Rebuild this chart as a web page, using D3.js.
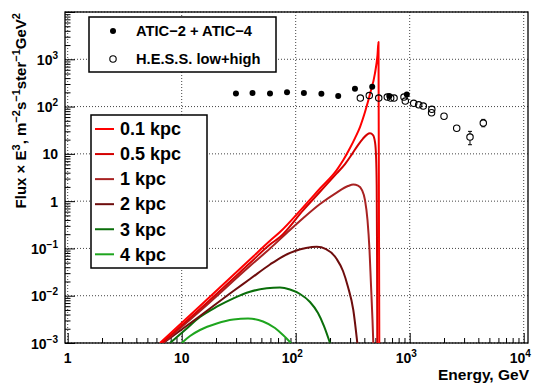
<!DOCTYPE html>
<html><head><meta charset="utf-8">
<script src="https://cdn.jsdelivr.net/npm/d3@7"></script>
<style>
html,body{margin:0;padding:0;background:#fff;}
svg{display:block;font-family:"Liberation Sans",Arial,Helvetica,sans-serif;font-weight:bold;}
</style></head>
<body>
<svg id="c" width="533" height="383"></svg>
<script>
// ---------- data ----------
const aticEnergy = [29.9, 41.8, 59.5, 83.9, 118, 168, 236, 331, 469, 662, 943];
const aticFlux   = [190, 193, 190, 200, 193, 187, 167, 238, 262, 167, 181];

const hessEnergy = [369, 442, 535, 636, 681, 729, 891, 915, 1084, 1199, 1316, 1563, 1555, 2000, 2584, 3380, 4421];
const hessFlux   = [151, 171, 151, 159, 151, 151, 159, 131, 117, 109, 102.5, 87.3, 74, 62.4, 34.8, 22.6, 44.8];
const hessErrUp  = [0, 0, 0, 0, 0, 0, 0, 0, 0, 0, 0, 0, 0, 0, 0, 7.3, 8.8];
const hessErrDn  = [0, 0, 0, 0, 0, 0, 0, 0, 0, 0, 0, 0, 0, 0, 0, 7.0, 7.4];

const curveLabels = ["0.1 kpc", "0.5 kpc", "1 kpc", "2 kpc", "3 kpc", "4 kpc"];
const curveColors = ["#ff0000", "#d40000", "#a82222", "#6e0d0d", "#0a6e0a", "#1ea51e"];

const energy01 = [6.45, 14.47, 39.7, 59.5, 72.8, 116.6, 163.4, 228.9, 261.6, 299.5, 331.3, 366.4, 405.4, 448.5, 496.1, 521.8, 532.5, 541.2];
const flux01   = [0.001, 0.00606, 0.0583, 0.1455, 0.222, 0.750, 1.85, 4.545, 7.39, 13.26, 21.58, 36.87, 76.5, 183.8, 510.9, 1227, 2310, 0.001];

const energy05 = [6.72, 14.47, 39.7, 59.5, 72.8, 116.6, 163.4, 228.9, 270.7, 311.9, 352, 389.4, 422.1, 448.5, 476.5, 496.1, 506.3, 513.4, 516.6, 519.7];
const flux05   = [0.001, 0.00524, 0.0491, 0.121, 0.174, 0.648, 1.58, 3.87, 6.087, 9.90, 15.35, 21.06, 25.59, 27.13, 24.98, 17.76, 9.43, 2.19, 0.1505, 0.001];

const energy1  = [6.85, 14.47, 39.7, 59.5, 83.4, 116.6, 163.4, 228.9, 287.6, 320.1, 352, 381.5, 405.4, 426.4, 444, 457.6, 471.7, 479.4];
const flux1    = [0.001, 0.00475, 0.0425, 0.0995, 0.2116, 0.439, 0.868, 1.52, 2.085, 2.244, 2.137, 1.717, 1.055, 0.399, 0.0925, 0.0168, 0.00306, 0.001];

const energy2  = [6.90, 14.47, 28.4, 39.7, 59.5, 72.8, 98.6, 123.1, 152.9, 184.4, 228.9, 260, 287.6, 320.1, 347.1];
const flux2    = [0.001, 0.00372, 0.01257, 0.0225, 0.0457, 0.0627, 0.0881, 0.102, 0.1086, 0.0971, 0.0597, 0.0333, 0.01527, 0.00499, 0.001];

const energy3  = [7.90, 10.7, 14.47, 20.3, 28.4, 39.7, 55.7, 72.8, 89.1, 109.1, 133.5, 156.9, 177.1, 200];
const flux3    = [0.001, 0.001883, 0.003546, 0.00585, 0.00881, 0.01215, 0.01434, 0.0149, 0.01352, 0.01086, 0.00736, 0.00431, 0.002287, 0.001];

const energy4  = [10.0, 11.83, 14.47, 20.3, 28.4, 38.2, 51.7, 65.8, 77.4, 90.9];
const flux4    = [0.001, 0.001406, 0.001883, 0.002585, 0.00314, 0.003296, 0.002849, 0.002076, 0.001476, 0.001];

const xMajor = [1, 10, 100, 1000, 10000];
const xMajorExp = [0, 1, 2, 3, 4];
const yMajor = [1e-3, 1e-2, 1e-1, 1, 10, 100, 1000];
const yMajorExp = [-3, -2, -1, 0, 1, 2, 3];

// ---------- layout ----------
const svg = d3.select("#c");
const L = 65, R = 528, T = 12, B = 343;
const x = d3.scaleLog().domain([1, 1e4]).range([67.7, 523.7]);
const y = d3.scaleLog().domain([1e-3, 1e4]).range([B, T]);

svg.append("defs").append("clipPath").attr("id", "clip")
  .append("rect").attr("x", L).attr("y", T).attr("width", R - L).attr("height", B - T);

// grid
const grid = svg.append("g").attr("stroke", "#444").attr("stroke-width", 1).attr("stroke-dasharray", "1,2");
xMajor.forEach(v => grid.append("line").attr("x1", x(v)).attr("x2", x(v)).attr("y1", T).attr("y2", B));
yMajor.concat([1e4]).forEach(v => grid.append("line").attr("x1", L).attr("x2", R).attr("y1", y(v)).attr("y2", y(v)));

// minor tick values
const xMinor = [];
for (let d = 1; d < 1e4; d *= 10) for (let k = 2; k <= 9; k++) xMinor.push(d * k);
const yMinor = [];
for (let d = 1e-3; d < 1e4 * 0.99; d *= 10) for (let k = 2; k <= 9; k++) yMinor.push(d * k);

// axes (ticks inward)
const gx1 = svg.append("g").attr("transform", `translate(0,${B})`)
  .call(d3.axisBottom(x).tickValues(xMinor).tickSize(-5).tickFormat(""));
const gx2 = svg.append("g").attr("transform", `translate(0,${B})`)
  .call(d3.axisBottom(x).tickValues(xMajor).tickSize(-10).tickFormat(""));
const gy1 = svg.append("g").attr("transform", `translate(${L},0)`)
  .call(d3.axisLeft(y).tickValues(yMinor).tickSize(-5.5).tickFormat(""));
const gy2 = svg.append("g").attr("transform", `translate(${L},0)`)
  .call(d3.axisLeft(y).tickValues(yMajor.concat([1e4])).tickSize(-10).tickFormat(""));
[gx1, gx2, gy1, gy2].forEach(g => { g.select(".domain").remove(); g.selectAll("line").attr("stroke", "#000").attr("stroke-width", 1); });

// frame
svg.append("rect").attr("x", L).attr("y", T).attr("width", R - L).attr("height", B - T)
  .attr("fill", "none").attr("stroke", "#000").attr("stroke-width", 1.3);

// tick labels
function powLabel(g, exp, xPos, yPos, anchor, size, supSize) {
  const t = g.append("text").attr("x", xPos).attr("y", yPos).attr("text-anchor", anchor)
    .attr("font-size", size).attr("fill", "#000");
  if (exp === 0) { t.text("1"); return; }
  if (exp === 1) { t.text("10"); return; }
  t.append("tspan").text("10");
  t.append("tspan").attr("dy", -6).attr("font-size", supSize).text(exp < 0 ? "\u2212" + (-exp) : String(exp));
}
const lab = svg.append("g");
xMajor.forEach((v, i) => {
  const e = xMajorExp[i];
  const off = (e >= 2) ? -3.5 : 0;
  powLabel(lab, e, x(v) + off, 363, "middle", 14, 10);
});
yMajor.forEach((v, i) => {
  powLabel(lab, yMajorExp[i], 58, y(v) + 5.5, "end", 14, 10);
});

// axis titles
svg.append("text").attr("x", 529).attr("y", 380).attr("text-anchor", "end")
  .attr("font-size", 15.5).text("Energy, GeV");
const yt = svg.append("text").attr("transform", "translate(25.5,13) rotate(-90)")
  .attr("text-anchor", "end").attr("font-size", 15);
const parts = [["Flux \u00D7 E", 0], ["3", 1], [", m", 0], ["\u22122", 1], ["s", 0], ["\u22121", 1], ["ster", 0], ["\u22121", 1], ["GeV", 0], ["2", 1]];
let prevSup = 0;
parts.forEach(([s, sup]) => {
  const ts = yt.append("tspan").text(s);
  const dy = (sup ? -6 : 0) - (prevSup ? -6 : 0);
  if (dy) ts.attr("dy", dy);
  if (sup) ts.attr("font-size", 11);
  prevSup = sup;
});

// curves
const curveData = [[energy01, flux01], [energy05, flux05], [energy1, flux1], [energy2, flux2], [energy3, flux3], [energy4, flux4]];
const line = d3.line().x(d => x(d[0])).y(d => y(d[1])).curve(d3.curveMonotoneX);
const cg = svg.append("g").attr("clip-path", "url(#clip)");
for (let i = curveData.length - 1; i >= 0; i--) {
  const [es, fs] = curveData[i];
  const pts = es.map((e, j) => [e, fs[j]]);
  cg.append("path").attr("d", line(pts)).attr("fill", "none")
    .attr("stroke", curveColors[i]).attr("stroke-width", 2).attr("stroke-linejoin", "round");
}

// data points
const pg = svg.append("g").attr("clip-path", "url(#clip)");
const rM = 3.2;
hessEnergy.forEach((e, i) => {
  const cx = x(e), cy = y(hessFlux[i]);
  if (hessErrUp[i] > 0) {
    const yy = y(hessFlux[i] + hessErrUp[i]);
    pg.append("line").attr("x1", cx).attr("x2", cx).attr("y1", yy).attr("y2", cy - rM).attr("stroke", "#000");
    pg.append("line").attr("x1", cx - 2).attr("x2", cx + 2).attr("y1", yy).attr("y2", yy).attr("stroke", "#000");
  }
  if (hessErrDn[i] > 0) {
    const yy = y(hessFlux[i] - hessErrDn[i]);
    pg.append("line").attr("x1", cx).attr("x2", cx).attr("y1", cy + rM).attr("y2", yy).attr("stroke", "#000");
    pg.append("line").attr("x1", cx - 2).attr("x2", cx + 2).attr("y1", yy).attr("y2", yy).attr("stroke", "#000");
  }
  pg.append("circle").attr("cx", cx).attr("cy", cy).attr("r", rM)
    .attr("fill", "none").attr("stroke", "#000").attr("stroke-width", 1.1);
});
aticEnergy.forEach((e, i) => {
  pg.append("circle").attr("cx", x(e)).attr("cy", y(aticFlux[i])).attr("r", 3).attr("fill", "#000");
});

// legend 1
const lg1 = svg.append("g");
lg1.append("rect").attr("x", 89).attr("y", 17).attr("width", 187).attr("height", 55)
  .attr("fill", "#fff").attr("stroke", "#000").attr("stroke-width", 1.5);
lg1.append("circle").attr("cx", 113).attr("cy", 31).attr("r", 3).attr("fill", "#000");
lg1.append("circle").attr("cx", 113).attr("cy", 59).attr("r", 3.2).attr("fill", "none").attr("stroke", "#000").attr("stroke-width", 1.1);
lg1.append("text").attr("x", 136).attr("y", 36).attr("font-size", 14.7).text("ATIC\u22122 + ATIC\u22124");
lg1.append("text").attr("x", 136).attr("y", 64).attr("font-size", 14.7).text("H.E.S.S. low+high");

// legend 2
const lg2 = svg.append("g");
lg2.append("rect").attr("x", 91).attr("y", 115).attr("width", 116).attr("height", 153)
  .attr("fill", "#fff").attr("stroke", "#000").attr("stroke-width", 1.5);
curveLabels.forEach((s, i) => {
  const cy = 129 + i * 25.06;
  lg2.append("line").attr("x1", 95).attr("x2", 114).attr("y1", cy).attr("y2", cy)
    .attr("stroke", curveColors[i]).attr("stroke-width", 2);
  lg2.append("text").attr("x", 120).attr("y", cy + 6.3).attr("font-size", 18).text(s);
});
</script>
</body></html>
